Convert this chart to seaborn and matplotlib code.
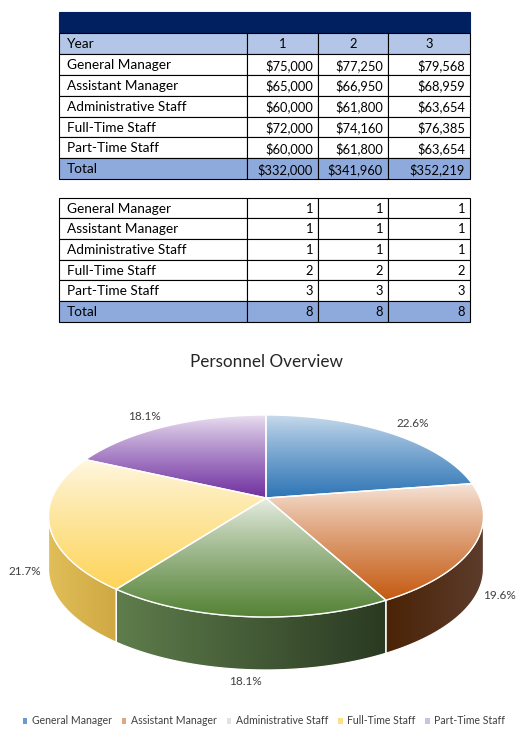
import numpy as np
import matplotlib
matplotlib.use("Agg")
import matplotlib.pyplot as plt
import seaborn as sns
from matplotlib.patches import Polygon, Rectangle, Patch
from matplotlib.colors import to_rgb

# ---------------- data ----------------
roles = ["General Manager", "Assistant Manager", "Administrative Staff",
         "Full-Time Staff", "Part-Time Staff"]
year_labels = ["1", "2", "3"]
salary_y1 = [75000, 65000, 60000, 72000, 60000]
salary_y2 = [77250, 66950, 61800, 74160, 61800]
salary_y3 = [79568, 68959, 63654, 76385, 63654]
salary_totals = [332000, 341960, 352219]
heads_y1 = [1, 1, 1, 2, 3]
heads_y2 = [1, 1, 1, 2, 3]
heads_y3 = [1, 1, 1, 2, 3]
head_totals = [8, 8, 8]
pie_values = salary_y3
chart_title = "Personnel Overview"

# ---------------- style ----------------
sns.set_theme(style="white")
plt.rcParams['font.family'] = ['Lato', 'DejaVu Sans']

W, H = 532, 740
fig = plt.figure(figsize=(W / 100, H / 100), dpi=100)
ax = fig.add_axes([0, 0, 1, 1])
ax.set_axis_off()

NAVY = "#002060"
LIGHT = "#B4C6E7"
TOTAL = "#8EA9DB"
col_edges = [59, 247, 318, 388, 470]
LFS = 9.8   # label font size
NFS = 9.3   # number font size


def cell(x0, x1, y0, y1, fc):
    ax.add_patch(Rectangle((x0, y0), x1 - x0, y1 - y0, facecolor=fc,
                           edgecolor="black", lw=0.8, zorder=1))


def draw_table(top, row_h, header, body_rows, total_row, fmt):
    y = top
    rows = []
    if header is not None:
        rows.append(("Year", header, LIGHT, "center"))
    for name, vals in body_rows:
        rows.append((name, [fmt(v) for v in vals], "white", "right"))
    rows.append(("Total", [fmt(v) for v in total_row], TOTAL, "right"))
    for name, vals, fc, align in rows:
        y1 = y + row_h
        for c in range(4):
            cell(col_edges[c], col_edges[c + 1], y, y1, fc)
        ym = (y + y1) / 2 + 0.8
        ax.text(col_edges[0] + 8, ym, name, ha="left", va="center",
                fontsize=LFS, color="black", zorder=5)
        for c, v in enumerate(vals):
            if align == "center":
                xt = (col_edges[c + 1] + col_edges[c + 2]) / 2
            else:
                xt = col_edges[c + 2] - 5
            ax.text(xt, ym, v, ha=align, va="center", fontsize=NFS,
                    color="black", zorder=5)
        y = y1


# navy band
ax.add_patch(Rectangle((col_edges[0], 12), col_edges[-1] - col_edges[0], 21,
                       facecolor=NAVY, edgecolor=NAVY, lw=0.8, zorder=1))
money = lambda v: f"${v:,}"
body1 = [(r, [a, b, c]) for r, a, b, c in zip(roles, salary_y1, salary_y2, salary_y3)]
draw_table(33.3, 20.8, year_labels, body1, salary_totals, money)
body2 = [(r, [a, b, c]) for r, a, b, c in zip(roles, heads_y1, heads_y2, heads_y3)]
draw_table(197.5, 20.7, None, body2, head_totals, lambda v: f"{v}")

# ---------------- 3D pie ----------------
cx, cy = 266, 498
rx, ry = 214, 97.8
persp = 0.178
depth = 53

base_cols = ["#2E75B6", "#C55A11", "#548235", "#FDD45A", "#7030A0"]
top_tints = [0.76, 0.86, 0.88, 0.84, 0.88]
side_cols = [("#24598C", "#1E4A75"), ("#4B2306", "#5C3C2C"),
             ("#5F7D4C", "#2A3A22"), ("#E0BE58", "#CFA843"),
             ("#4E2070", "#3E1A5A")]
legend_cols = ["#6A9AD0", "#DDA882", "#DFE5DA", "#FDDF86", "#CDC0E0"]


def proj(theta_deg, r=1.0):
    t = np.radians(theta_deg)
    d = 1 + persp * r * np.sin(t)
    return cx + rx * r * np.cos(t) / d, cy - ry * r * np.sin(t) / d


def mix(c, w):
    c = np.array(to_rgb(c))
    return c * (1 - w) + np.ones(3) * w


def grad_fill(xy, c0, c1, vertical, z, gamma=1.0):
    poly = Polygon(xy, closed=True, facecolor="none", edgecolor="none")
    ax.add_patch(poly)
    x0, y0 = xy.min(0)
    x1, y1 = xy.max(0)
    t = np.linspace(0, 1, 256) ** gamma
    cols = (1 - t)[:, None] * np.array(c0) + t[:, None] * np.array(c1)
    img = cols[:, None, :] if vertical else cols[None, :, :]
    im = ax.imshow(img, extent=(x0, x1, y1, y0), origin="upper",
                   aspect="auto", zorder=z, interpolation="bilinear")
    im.set_clip_path(poly)


total = float(sum(pie_values))
vis_lo, vis_hi = -180 + np.degrees(np.arcsin(persp)), -np.degrees(np.arcsin(persp))
start = 90.0
slices = []
for i, v in enumerate(pie_values):
    sweep = 360.0 * v / total
    slices.append((start, start - sweep))
    start -= sweep

# sides
for i, (a0, a1) in enumerate(slices):
    s_hi, s_lo = min(a0, vis_hi), max(a1, vis_lo)
    if s_hi <= s_lo:
        continue
    th = np.linspace(s_hi, s_lo, 80)
    top = np.array([proj(t) for t in th])
    bot = top.copy()
    bot[:, 1] += depth
    xy = np.vstack([top, bot[::-1]])
    grad_fill(xy, to_rgb(side_cols[i][0]), to_rgb(side_cols[i][1]), False, 2)
    ax.add_patch(Polygon(xy, closed=True, fill=False, edgecolor="white",
                         lw=0.9, zorder=2.5))

# top faces
for i, (a0, a1) in enumerate(slices):
    th = np.linspace(a0, a1, 120)
    arc = np.array([proj(t) for t in th])
    xy = np.vstack([[proj(0, 0)], arc])
    grad_fill(xy, mix(base_cols[i], top_tints[i]), to_rgb(base_cols[i]),
              True, 3, 0.85)
    ax.add_patch(Polygon(xy, closed=True, fill=False, edgecolor="white",
                         lw=1.0, zorder=4, joinstyle="round"))

# labels
for i, (a0, a1) in enumerate(slices):
    m = (a0 + a1) / 2
    s, c = np.sin(np.radians(m)), np.cos(np.radians(m))
    x, y = proj(m, 1.02)
    if s < 0:
        y += depth * 0.9 + 14 * (-s) ** 3
    else:
        y -= 10 * s
    if c > 0.3:
        ha, x = "left", x + 5
    elif c < -0.3:
        ha, x = "right", x - 3
    else:
        ha = "center"
    ax.text(x, y, f"{100 * pie_values[i] / total:.1f}%", ha=ha, va="center",
            fontsize=8.5, color="#404040", zorder=6)

ax.text(cx, 362, chart_title, ha="center", va="center", fontsize=12.3,
        color="#262626", zorder=6)

handles = [Patch(facecolor=legend_cols[i], edgecolor="none") for i in range(5)]
fig.legend(handles, roles, loc="center", bbox_to_anchor=(264 / W, 1 - 721 / H),
           ncol=5, frameon=False, fontsize=7.6, handlelength=0.45,
           handleheight=0.45, handletextpad=0.4, columnspacing=0.95,
           labelcolor="#404040")

ax.set_xlim(0, W)
ax.set_ylim(H, 0)
fig.savefig("out.png", dpi=100, facecolor="white")
